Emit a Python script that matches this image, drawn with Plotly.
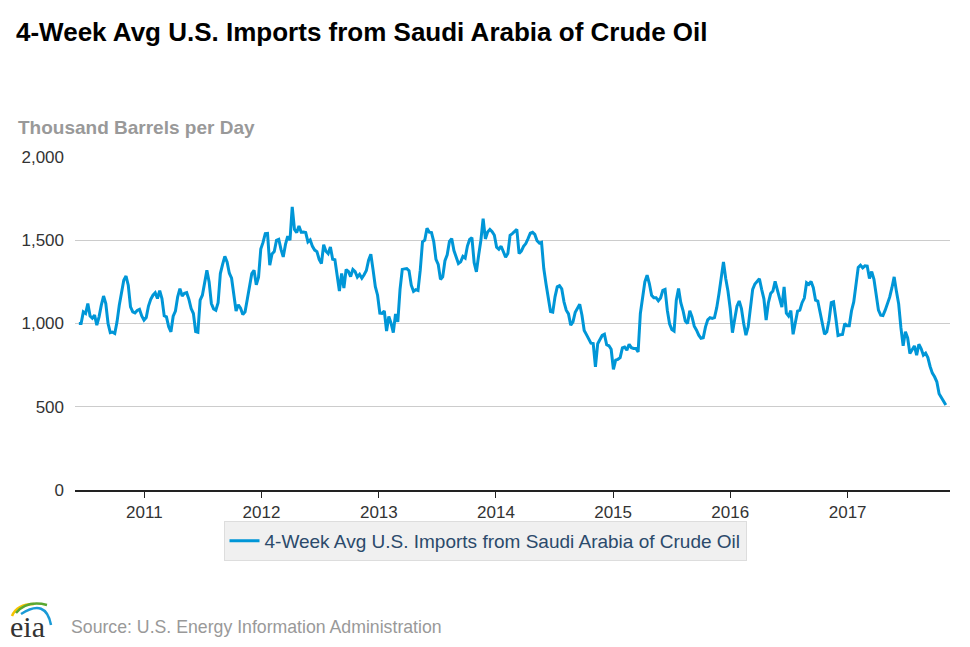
import pandas as pd
import plotly.graph_objects as go

# weekly values, thousand barrels per day
first_week = "2010-06-11"
saudi_imports = [
    1000, 1000, 1070, 1060, 1120, 1045, 1032, 1050, 990, 1040,
    1110, 1165, 1120, 1000, 945, 948, 940, 1010, 1110, 1200,
    1260, 1285, 1230, 1100, 1070, 1064, 1078, 1085, 1045, 1020,
    1036, 1105, 1145, 1170, 1185, 1150, 1197, 1150, 1046, 1040,
    980, 950, 1044, 1075, 1160, 1209, 1165, 1181, 1185, 1145,
    1090, 1060, 952, 948, 1140, 1170, 1235, 1319, 1250, 1120,
    1088, 1080, 1125, 1300, 1355, 1403, 1370, 1302, 1272, 1170,
    1075, 1112, 1092, 1054, 1070, 1145, 1220, 1300, 1320, 1232,
    1278, 1447, 1487, 1540, 1541, 1350, 1418, 1432, 1500, 1506,
    1445, 1400, 1475, 1525, 1500, 1700, 1565, 1546, 1585, 1548,
    1549, 1546, 1490, 1502, 1463, 1441, 1432, 1385, 1360, 1473,
    1434, 1420, 1460, 1386, 1383, 1275, 1195, 1300, 1213, 1324,
    1313, 1282, 1324, 1311, 1279, 1295, 1272, 1293, 1318, 1380,
    1416, 1322, 1221, 1170, 1062, 1061, 1075, 955, 1042, 1002,
    945, 1057, 1010, 1205, 1325, 1328, 1330, 1317, 1230, 1193,
    1203, 1198, 1320, 1490, 1500, 1572, 1549, 1546, 1492, 1385,
    1355, 1265, 1280, 1377, 1413, 1493, 1510, 1438, 1396, 1360,
    1370, 1403, 1393, 1465, 1505, 1516, 1365, 1310, 1410, 1500,
    1630, 1508, 1550, 1565, 1551, 1530, 1458, 1446, 1464, 1435,
    1399, 1420, 1530, 1540, 1555, 1565, 1420, 1434, 1463, 1480,
    1510, 1543, 1548, 1535, 1497, 1483, 1488, 1330, 1237, 1163,
    1072, 1068, 1160, 1220, 1227, 1208, 1130, 1080, 1058, 990,
    1010, 1068, 1096, 1116, 1050, 958, 933, 902, 882, 880,
    740, 878, 905, 928, 935, 872, 866, 845, 725, 780,
    785, 795, 853, 858, 840, 875, 855, 850, 850, 830,
    1060, 1145, 1250, 1290, 1240, 1170, 1155, 1155, 1136, 1153,
    1199, 1205, 1080, 998, 964, 955, 1140, 1210, 1125, 1078,
    1015, 1000, 1076, 1040, 984, 960, 930, 911, 914, 980,
    1022, 1035, 1030, 1035, 1095, 1178, 1280, 1370, 1270, 1195,
    1090, 945, 1026, 1104, 1135, 1090, 1000, 930, 980, 1100,
    1205, 1237, 1256, 1269, 1205, 1148, 1020, 1125, 1180, 1195,
    1253, 1197, 1148, 1098, 1220, 1062, 1045, 1077, 935, 1015,
    1075, 1080, 1125, 1153, 1245, 1235, 1253, 1215, 1140, 1135,
    1070, 1010, 935, 950, 1020, 1125, 1130, 1035, 928, 932,
    934, 1000, 986, 986, 1075, 1130, 1245, 1337, 1350, 1334,
    1346, 1345, 1270, 1312, 1265, 1157, 1080, 1050, 1048, 1080,
    1117, 1158, 1215, 1280, 1193, 1118, 975, 866, 950, 913,
    820, 840, 865, 810, 875, 850, 810, 822, 795, 742,
    702, 680, 650, 578, 556, 527, 510,
]
series_name = "4-Week Avg U.S. Imports from Saudi Arabia of Crude Oil"
y_ticks = [0, 500, 1000, 1500, 2000]

weeks = pd.date_range(first_week, periods=len(saudi_imports), freq="7D")

FONT = "Liberation Sans, Arial, sans-serif"
BLUE = "#0096d7"

# plot box in pixels, used to place the decorations
L, R, T, B = 75, 950, 157, 490


def px(x):
    return (x - L) / (R - L)


def py(y):
    return (B - y) / (B - T)


fig = go.Figure()
fig.add_trace(go.Scatter(
    x=weeks, y=saudi_imports, mode="lines", name=series_name,
    line=dict(color=BLUE, width=3),
))

fig.update_layout(
    width=970, height=647,
    margin=dict(l=L, r=970 - R, t=T, b=647 - B),
    paper_bgcolor="white", plot_bgcolor="white",
    font=dict(family=FONT, color="#333333", size=17),
    title=dict(
        text="<b>" + series_name + "</b>",
        font=dict(family=FONT, size=26, color="#000000"),
        xref="container", x=16 / 970, xanchor="left",
        yref="container", y=1 - 32 / 647, yanchor="middle",
    ),
    showlegend=True,
    legend=dict(
        orientation="h", x=px(485), xanchor="center", y=py(521), yanchor="top",
        bgcolor="#f0f0f0", bordercolor="#dddddd", borderwidth=1,
        font=dict(family=FONT, size=19, color="#2b4a6b"),
    ),
    xaxis=dict(
        range=["2010-05-30", "2017-11-16"],
        showgrid=False, zeroline=False,
        showline=True, linecolor="#222222", linewidth=1.5,
        ticks="outside", ticklen=6, tickcolor="#222222",
        dtick="M12", tick0="2011-01-01", tickformat="%Y",
        tickfont=dict(size=17, color="#333333"),
    ),
    yaxis=dict(
        range=[0, 2000], tickvals=y_ticks,
        tickformat=",", showgrid=True, gridcolor="#cccccc", gridwidth=1,
        zeroline=False, showline=False, ticks="", ticklabelstandoff=10,
        tickfont=dict(size=17, color="#333333"),
    ),
)

fig.add_annotation(
    text="<b>Thousand Barrels per Day</b>", showarrow=False,
    xref="paper", yref="paper", x=px(16), y=py(127),
    xanchor="left", yanchor="middle",
    font=dict(family=FONT, size=19, color="#999999"),
)
fig.add_annotation(
    text="Source: U.S. Energy Information Administration", showarrow=False,
    xref="paper", yref="paper", x=px(69), y=py(627),
    xanchor="left", yanchor="middle",
    font=dict(family=FONT, size=17.7, color="#999999"),
)

# eia logo: letters plus three arcs
fig.add_annotation(
    text="eia", showarrow=False,
    xref="paper", yref="paper", x=px(27), y=py(626),
    xanchor="center", yanchor="middle",
    font=dict(family="Liberation Serif, DejaVu Serif, serif", size=30, color="#333333"),
)
arcs = [
    ((12, 616), (17, 604), (34, 604), "#f5c400"),
    ((16, 613), (27, 600), (47, 605), "#5aa832"),
    ((21, 614), (46, 598), (51, 625), "#1a9ad6"),
]
for (x0, y0), (cx, cy), (x1, y1), col in arcs:
    fig.add_shape(
        type="path", xref="paper", yref="paper",
        path=f"M {px(x0)},{py(y0)} Q {px(cx)},{py(cy)} {px(x1)},{py(y1)}",
        line=dict(color=col, width=2.5),
    )

# the page adds a default body margin; drop it so the figure sits at 0,0
fig.write_html("out.html", config={"displayModeBar": False},
               post_script="document.body.style.margin='0px';")
